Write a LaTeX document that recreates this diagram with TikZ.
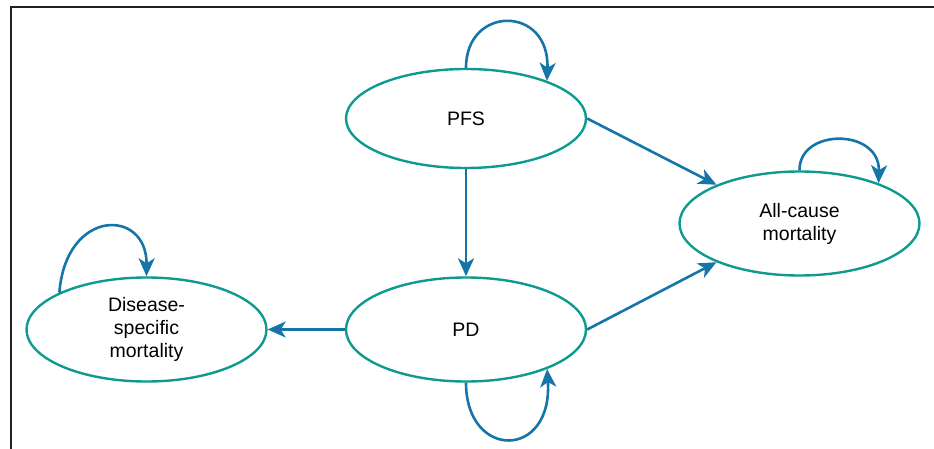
\documentclass[tikz,border=0pt]{standalone}
\usepackage{fontspec}
\setmainfont{Liberation Sans}
\usetikzlibrary{shapes.geometric,arrows.meta}
\definecolor{arrowblue}{HTML}{1575A8}
\definecolor{stateteal}{HTML}{0E9A8E}
\definecolor{frameline}{HTML}{222222}
\tikzset{
  statebox/.style={ellipse, draw=stateteal, line width=2.4pt, minimum width=240pt, minimum height=104pt, inner sep=0pt, align=center, font=\fontsize{19.5}{23}\selectfont},
  flow/.style={draw=arrowblue, line width=2.6pt, -{Stealth[length=18pt, width=16pt, inset=5pt]}},
  frame/.style={draw=frameline, line width=1.6pt}
}
\begin{document}
\begin{tikzpicture}[x=1pt, y=-1pt]
\useasboundingbox (0,0) rectangle (934,449);
\coordinate (tl) at (11,7);
\coordinate (tr) at (934,7);
\coordinate (bl) at (11,449);
\draw[frame] (tr) -- (tl) -- (bl);

\node[statebox, minimum height=99pt] (pfs) at (466,118.5) {PFS};
\node[statebox] (pd) at (466,329.5) {PD};
\node[statebox] (dis) at (146.5,329.5) {Disease-\\specific\\mortality};
\node[statebox] (all) at (799.5,223.5) {All-cause\\mortality};

\draw[flow] (pfs.east) -- (all.155);
\draw[flow] (pd.east) -- (all.205);
\draw[flow] (pfs.south) -- (pd.north);
\draw[flow] (pd.west) -- (dis.east);

\draw[flow] (pfs.north) .. controls (466,5) and (550,5) .. (pfs.25);
\draw[flow] (pd.south) .. controls (466,460) and (553,460) .. (pd.-26);
\draw[flow] (dis.157) .. controls (66,208) and (147,208) .. (dis.north);
\draw[flow] (all.north) .. controls (799,128) and (880,128) .. (all.27);
\end{tikzpicture}
\end{document}
